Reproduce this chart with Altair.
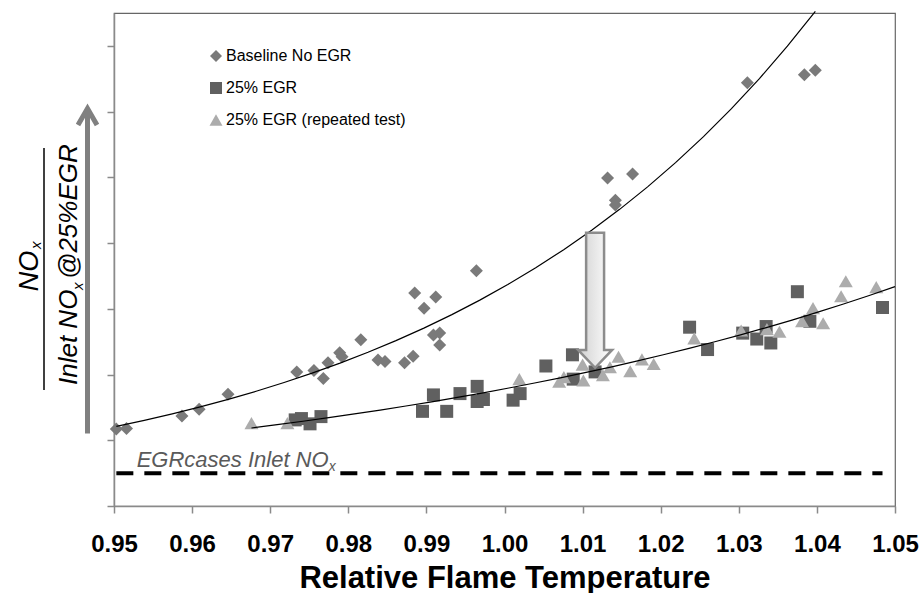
import altair as alt
import pandas as pd

# ---------------- data ----------------
base_x = [0.9503, 0.9516, 0.9587, 0.9609, 0.9646, 0.9734, 0.9756, 0.9768, 0.9774, 0.9789,
          0.9792, 0.9816, 0.9838, 0.9847, 0.9872, 0.9883, 0.9885, 0.9897, 0.9912, 0.9909,
          0.9917, 0.9917, 0.9964, 1.0132, 1.0142, 1.0142, 1.0164, 1.0311, 1.0384, 1.0398]
base_y = [1.17, 1.18, 1.37, 1.47, 1.70, 2.04, 2.06, 1.94, 2.18, 2.33,
          2.27, 2.53, 2.22, 2.20, 2.18, 2.28, 3.24, 3.01, 3.18, 2.60,
          2.63, 2.45, 3.58, 4.99, 4.65, 4.58, 5.05, 6.44, 6.56, 6.63]

egr_x = [0.9732, 0.9740, 0.9751, 0.9765, 0.9895, 0.9909, 0.9926, 0.9943, 0.9965, 0.9965,
         0.9973, 1.0011, 1.0020, 1.0053, 1.0087, 1.0088, 1.0116, 1.0237, 1.0260, 1.0305,
         1.0323, 1.0335, 1.0341, 1.0375, 1.0391, 1.0484]
egr_y = [1.31, 1.33, 1.25, 1.36, 1.44, 1.69, 1.44, 1.71, 1.82, 1.59,
         1.62, 1.61, 1.71, 2.13, 2.30, 1.93, 2.04, 2.72, 2.38, 2.63,
         2.54, 2.73, 2.48, 3.26, 2.81, 3.02]

rep_x = [0.9676, 0.9722, 1.0019, 1.0070, 1.0076, 1.0100, 1.0101, 1.0126, 1.0135, 1.0146,
         1.0161, 1.0176, 1.0191, 1.0243, 1.0303, 1.0336, 1.0352, 1.0381, 1.0395, 1.0408,
         1.0431, 1.0437, 1.0476]
rep_y = [1.26, 1.26, 1.93, 1.89, 1.96, 2.15, 1.91, 1.99, 2.11, 2.27,
         2.05, 2.23, 2.16, 2.55, 2.67, 2.69, 2.65, 2.81, 3.01, 2.78,
         3.19, 3.42, 3.33]

series_names = ["Baseline No EGR", "25% EGR", "25% EGR (repeated test)"]
x_ticks = [0.95, 0.96, 0.97, 0.98, 0.99, 1.00, 1.01, 1.02, 1.03, 1.04, 1.05]
y_ticks = [0, 1, 2, 3, 4, 5, 6, 7]

inlet_level = [0.5]
inlet_span = [0.9503, 1.0484]
inlet_label_pos = [0.9529, 0.598]
arrow_pos = [1.0116, 3.13]

FONT = "Liberation Sans"
C_BASE, C_EGR, C_REP = "#7a7a7a", "#606060", "#acacac"

base_df = pd.DataFrame({"x": base_x, "y": base_y})
egr_df = pd.DataFrame({"x": egr_x, "y": egr_y})
rep_df = pd.DataFrame({"x": rep_x, "y": rep_y})
egr_all = pd.concat([egr_df, rep_df], ignore_index=True)

xscale = alt.Scale(domain=[0.95, 1.05], nice=False, zero=False)
yscale = alt.Scale(domain=[0, 7.5], nice=False, zero=False)

xaxis = alt.Axis(values=x_ticks, format=".2f", grid=False, labelFont=FONT, labelFontSize=24,
                 labelFontWeight="bold", labelColor="black", labelPadding=19, labelOverlap=False,
                 labelFlush=False, tickSize=7, tickColor="#8a8a8a", tickWidth=1.5,
                 domainColor="#8a8a8a", domainWidth=1.5, titleFont=FONT, titleFontSize=31,
                 titleFontWeight="bold", titleColor="black", titlePadding=7)
yaxis = alt.Axis(values=y_ticks, labels=False, title=None, grid=False, tickSize=7,
                 tickColor="#8a8a8a", tickWidth=1.5, domainColor="#8a8a8a", domainWidth=1.5)

X = alt.X("x:Q", scale=xscale, axis=xaxis, title="Relative Flame Temperature")
Y = alt.Y("y:Q", scale=yscale, axis=yaxis)


def one():
    return alt.Chart(alt.Data(values=[{"a": 0}]))


# trend lines (Excel-style exponential: least squares on ln y)
def trend(df, extent):
    return (alt.Chart(df)
            .transform_calculate(ly="log(datum.y)")
            .transform_regression("x", "ly", method="poly", order=1, extent=extent)
            .transform_calculate(y="exp(datum.ly)")
            .mark_line(color="black", strokeWidth=1.2)
            .encode(x=X, y=Y))


base_pts = alt.Chart(base_df).mark_point(shape="diamond", filled=True, size=169, color=C_BASE,
                                         opacity=1).encode(x=X, y=Y)
egr_pts = alt.Chart(egr_df).mark_point(shape="square", filled=True, size=169, color=C_EGR,
                                       opacity=1).encode(x=X, y=Y)
rep_pts = alt.Chart(rep_df).mark_point(shape="triangle-up", filled=True, size=196, color=C_REP,
                                       opacity=1).encode(x=X, y=Y)

base_fit = trend(base_df, [min(base_x), max(base_x)])
egr_fit = trend(egr_all, [min(egr_x + rep_x), 1.05])

inlet_df = pd.DataFrame({"x": [inlet_span[0]], "x2": [inlet_span[1]], "y": inlet_level})
inlet_line = alt.Chart(inlet_df).mark_rule(color="black", strokeWidth=4, strokeDash=[17, 11]).encode(
    x=X, x2="x2:Q", y=Y)

lab_df = pd.DataFrame({"x": [inlet_label_pos[0]], "y": [inlet_label_pos[1]]})
inlet_text = alt.Chart(lab_df).mark_text(text="EGRcases Inlet NO", align="left", baseline="alphabetic",
                                         font=FONT, fontSize=22, fontStyle="italic",
                                         color="#5a5a5a").encode(x=X, y=Y)
inlet_sub = alt.Chart(lab_df).mark_text(text="x", align="left", baseline="alphabetic", dx=192, dy=4,
                                        font=FONT, fontSize=14, fontStyle="italic",
                                        color="#5a5a5a").encode(x=X, y=Y)

ARROW = "M-0.133,-1L0.133,-1L0.133,0.736L0.252,0.736L0,1L-0.252,0.736L-0.133,0.736Z"
grad = alt.LinearGradient(gradient="linear",
                          stops=[alt.GradientStop(offset=0, color="#d0d0d0"),
                                 alt.GradientStop(offset=1, color="#ffffff")],
                          x1=0, x2=1, y1=0, y2=0)
arrow_df = pd.DataFrame({"x": [arrow_pos[0]], "y": [arrow_pos[1]]})
big_arrow = alt.Chart(arrow_df).mark_point(shape=ARROW, size=18225, filled=True, fill=grad,
                                           stroke="#8c8c8c", strokeWidth=2.5, opacity=1,
                                           strokeJoin="miter").encode(x=X, y=Y)

# legend (manual, Excel style)
legend_layers = []
shapes = [("diamond", 144, C_BASE), ("square", 144, C_EGR), ("triangle-up", 169, C_REP)]
for i, (name, (shp, sz, col)) in enumerate(zip(series_names, shapes)):
    ly = 43 + i * 32
    legend_layers.append(one().mark_point(shape=shp, size=sz, filled=True, color=col, opacity=1)
                         .encode(x=alt.value(102), y=alt.value(ly)))
    legend_layers.append(one().mark_text(text=name, align="left", baseline="middle", font=FONT,
                                         fontSize=16, color="black")
                         .encode(x=alt.value(112), y=alt.value(ly)))

# y-axis annotation: fraction and arrow
ytxt = dict(font=FONT, fontStyle="italic", color="black", angle=270, baseline="alphabetic")
num_no = one().mark_text(text="NO", align="center", fontSize=27, **ytxt).encode(
    x=alt.value(-76), y=alt.value(258))
num_x = one().mark_text(text="x", align="left", fontSize=15, **ytxt).encode(
    x=alt.value(-73), y=alt.value(236))
frac = one().mark_rule(color="black", strokeWidth=1.5).encode(
    x=alt.value(-70), y=alt.value(135), y2=alt.value(377))
den_a = one().mark_text(text="Inlet NO", align="left", fontSize=26, **ytxt).encode(
    x=alt.value(-37), y=alt.value(372))
den_x = one().mark_text(text="x", align="left", fontSize=15, **ytxt).encode(
    x=alt.value(-31), y=alt.value(277))
den_b = one().mark_text(text="@25%EGR", align="left", fontSize=26, **ytxt).encode(
    x=alt.value(-37), y=alt.value(266))
UP = "M0,1L0,-0.99M-0.0585,-0.898L0,-1L0.0585,-0.898"
up_arrow = one().mark_point(shape=UP, size=105625, filled=False, stroke="#808080", strokeWidth=5,
                            opacity=1, strokeJoin="miter").encode(
    x=alt.value(-26.5), y=alt.value(258))

chart = alt.layer(
    base_pts, egr_pts, rep_pts, base_fit, egr_fit, inlet_line, inlet_text, inlet_sub, big_arrow,
    *legend_layers, num_no, num_x, frac, den_a, den_x, den_b, up_arrow
).properties(
    width=781, height=493,
    autosize=alt.AutoSizeParams(type="none"),
    padding={"left": 114, "top": 13, "right": 28, "bottom": 87},
    background="white",
).configure_view(stroke="#666666", strokeWidth=1.2)

chart.save("out.html", embed_options={"renderer": "svg", "actions": False})
